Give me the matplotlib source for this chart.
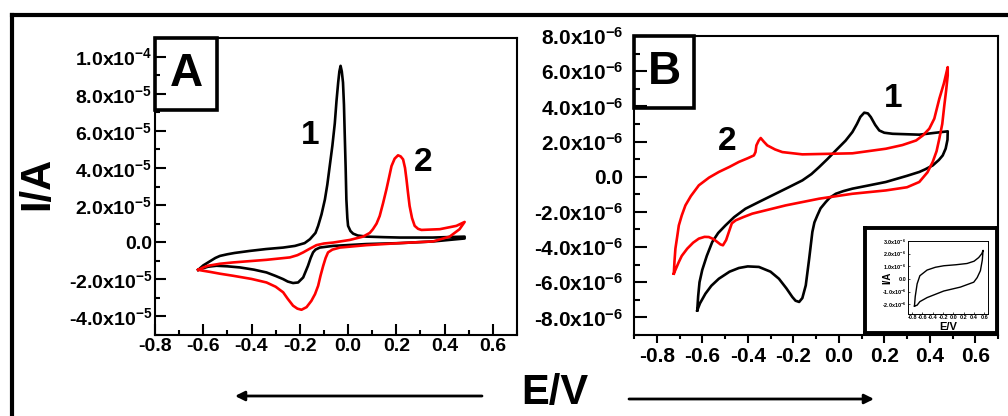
import matplotlib
matplotlib.use('Agg')
import matplotlib.pyplot as plt
from matplotlib.patches import Rectangle, FancyArrowPatch
from matplotlib.lines import Line2D
from matplotlib.ticker import MultipleLocator

plt.rcParams['font.family'] = ['Liberation Sans', 'DejaVu Sans']
plt.rcParams['font.weight'] = 'bold'
plt.rcParams['mathtext.fontset'] = 'custom'
plt.rcParams['mathtext.rm'] = 'Liberation Sans:bold'
plt.rcParams['mathtext.it'] = 'Liberation Sans:bold'
plt.rcParams['mathtext.bf'] = 'Liberation Sans:bold'
plt.rcParams['mathtext.default'] = 'rm'

# ---------------- data ----------------
# Panel A (current in units of 1e-5 A)
A_SCALE = 1e-5
a1_E = [-0.621, -0.6, -0.58, -0.55, -0.531, -0.5, -0.47, -0.407, -0.34, -0.269, -0.22, -0.18,
        -0.158, -0.135, -0.124, -0.11, -0.096, -0.086, -0.076, -0.065, -0.055, -0.048, -0.041,
        -0.036, -0.031, -0.026, -0.021, -0.017, -0.014, -0.010, -0.007, -0.003, 0.0, 0.01,
        0.021, 0.04, 0.076, 0.15, 0.214, 0.35, 0.483,
        0.483, 0.352, 0.214, 0.076, -0.062, -0.117, -0.135, -0.145, -0.155, -0.166, -0.186,
        -0.207, -0.228, -0.25, -0.269, -0.3, -0.338, -0.39, -0.448, -0.5, -0.545, -0.58,
        -0.6, -0.621]
a1_I = [-1.49, -1.25, -1.09, -0.85, -0.74, -0.65, -0.58, -0.47, -0.37, -0.29, -0.2, -0.05,
        0.16, 0.5, 0.88, 1.5, 2.3, 3.1, 4.1, 5.2, 6.4, 7.6, 8.6,
        9.2, 9.5, 9.2, 8.6, 7.4, 5.9, 4.0, 2.3, 1.3, 0.88, 0.6,
        0.46, 0.36, 0.3, 0.27, 0.25, 0.25, 0.3,
        0.2, 0.04, -0.05, -0.1, -0.2, -0.29, -0.4, -0.55, -0.85, -1.27, -1.9,
        -2.17, -2.2, -2.12, -1.99, -1.82, -1.63, -1.48, -1.36, -1.3, -1.27, -1.32,
        -1.4, -1.49]

a2_E = [-0.621, -0.6, -0.58, -0.53, -0.476, -0.338, -0.241, -0.21, -0.186, -0.16, -0.131,
        -0.1, -0.062, 0.007, 0.062, 0.09, 0.103, 0.118, 0.131, 0.145, 0.159, 0.17, 0.18, 0.193,
        0.207, 0.218, 0.228, 0.236, 0.242, 0.248, 0.255, 0.265, 0.276, 0.29, 0.304, 0.38,
        0.449, 0.483,
        0.462, 0.421, 0.352, 0.214, 0.076, -0.034, -0.065, -0.083, -0.093, -0.103, -0.114,
        -0.124, -0.137, -0.152, -0.172, -0.193, -0.21, -0.228, -0.25, -0.269, -0.3, -0.338,
        -0.4, -0.476, -0.53, -0.572, -0.6, -0.621]
a2_I = [-1.49, -1.36, -1.27, -1.16, -1.09, -0.95, -0.82, -0.7, -0.55, -0.36, -0.16,
        -0.07, -0.02, 0.12, 0.3, 0.5, 0.7, 1.0, 1.41, 2.1, 2.85, 3.5, 4.1, 4.5,
        4.68, 4.62, 4.46, 4.0, 3.39, 2.7, 1.95, 1.3, 0.88, 0.72, 0.66, 0.7,
        0.88, 1.09,
        0.7, 0.3, 0.04, -0.05, -0.16, -0.29, -0.4, -0.55, -0.85, -1.27, -1.8,
        -2.35, -2.8, -3.16, -3.5, -3.64, -3.58, -3.42, -3.05, -2.7, -2.4, -2.17,
        -1.98, -1.81, -1.7, -1.6, -1.54, -1.49]

# Panel B (current in units of 1e-6 A)
B_SCALE = 1e-6
b1_E = [-0.622, -0.618, -0.612, -0.6, -0.58, -0.556, -0.53, -0.498, -0.46, -0.41, -0.35,
        -0.292, -0.22, -0.16, -0.12, -0.086, -0.05, -0.013, 0.03, 0.06, 0.08, 0.095, 0.112,
        0.128, 0.141, 0.16, 0.178, 0.2, 0.237, 0.354, 0.479,
        0.479, 0.478, 0.47, 0.457, 0.44, 0.413, 0.38, 0.354, 0.3, 0.207, 0.13, 0.06, 0.02,
        -0.013, -0.04, -0.057, -0.08, -0.094, -0.107, -0.116, -0.13, -0.145, -0.16, -0.174,
        -0.19, -0.204, -0.23, -0.263, -0.3, -0.351, -0.4, -0.439, -0.48, -0.527, -0.56,
        -0.586, -0.61, -0.622]
b1_I = [-7.6, -6.8, -6.0, -5.3, -4.5, -3.71, -3.2, -2.77, -2.3, -1.82, -1.43,
        -1.06, -0.6, -0.21, 0.15, 0.55, 1.0, 1.49, 2.05, 2.54, 3.0, 3.4, 3.64,
        3.6, 3.39, 2.95, 2.63, 2.5, 2.44, 2.39, 2.58,
        2.58, 2.1, 1.6, 1.21, 0.95, 0.64, 0.42, 0.27, 0.05, -0.3, -0.5, -0.68, -0.82,
        -0.97, -1.2, -1.44, -1.8, -2.2, -2.6, -3.14, -4.66, -6.18, -6.9, -7.12,
        -7.05, -6.84, -6.35, -5.8, -5.4, -5.13, -5.1, -5.19, -5.4, -5.8, -6.2,
        -6.65, -7.2, -7.6]

b2_E = [-0.725, -0.722, -0.718, -0.71, -0.703, -0.69, -0.674, -0.65, -0.615, -0.57, -0.527,
        -0.48, -0.439, -0.4, -0.373, -0.366, -0.362, -0.352, -0.343, -0.33, -0.314, -0.28,
        -0.248, -0.16, 0.06, 0.207, 0.28, 0.34, 0.37, 0.398, 0.42, 0.442, 0.462, 0.479,
        0.479, 0.472, 0.464, 0.455, 0.442, 0.43, 0.413, 0.39, 0.354, 0.3, 0.207, 0.06, -0.086,
        -0.233, -0.38, -0.42, -0.453, -0.47, -0.483, -0.495, -0.509, -0.52, -0.534, -0.55,
        -0.571, -0.59, -0.615, -0.64, -0.666, -0.69, -0.703, -0.725]
b2_I = [-5.51, -4.8, -4.09, -3.4, -2.77, -2.2, -1.63, -1.1, -0.49, -0.05, 0.27,
        0.56, 0.84, 1.05, 1.21, 1.4, 1.78, 2.05, 2.2, 2.0, 1.78, 1.55,
        1.4, 1.27, 1.33, 1.59, 1.8, 2.06, 2.35, 2.73, 3.3, 4.43, 5.3, 6.23,
        5.76, 4.9, 4.05, 3.0, 2.16, 1.45, 0.84, 0.25, -0.3, -0.6, -0.78, -0.97, -1.25,
        -1.63, -2.1, -2.3, -2.48, -2.65, -3.14, -3.6, -3.9, -3.85, -3.71, -3.55,
        -3.43, -3.42, -3.52, -3.75, -4.09, -4.5, -4.85, -5.51]

# Inset (current in units of 1e-6 A)
in_E = [-0.755, -0.74, -0.703, -0.65, -0.51, -0.35, -0.187, 0.05, 0.265, 0.4, 0.49, 0.55,
        0.574, 0.56, 0.523, 0.46, 0.394, 0.135, -0.187, -0.51, -0.65, -0.703, -0.755]
in_I = [-2.16, -1.4, -0.39, 0.25, 0.7, 0.92, 1.04, 1.12, 1.22, 1.4, 1.69, 2.0,
        2.26, 1.5, 0.65, 0.1, -0.26, -0.65, -0.96, -1.48, -1.8, -2.08, -2.16]

# tick values / labels
x_ticks = [-0.8, -0.6, -0.4, -0.2, 0.0, 0.2, 0.4, 0.6]
x_labels = ['-0.8', '-0.6', '-0.4', '-0.2', '0.0', '0.2', '0.4', '0.6']
a_yticks = [-4e-5, -2e-5, 0.0, 2e-5, 4e-5, 6e-5, 8e-5, 1e-4]
a_ylabels = ['-4.0x10$^{-5}$', '-2.0x10$^{-5}$', '0.0', '2.0x10$^{-5}$', '4.0x10$^{-5}$',
             '6.0x10$^{-5}$', '8.0x10$^{-5}$', '1.0x10$^{-4}$']
b_yticks = [-8e-6, -6e-6, -4e-6, -2e-6, 0.0, 2e-6, 4e-6, 6e-6, 8e-6]
b_ylabels = ['-8.0x10$^{-6}$', '-6.0x10$^{-6}$', '-4.0x10$^{-6}$', '-2.0x10$^{-6}$', '0.0',
             '2.0x10$^{-6}$', '4.0x10$^{-6}$', '6.0x10$^{-6}$', '8.0x10$^{-6}$']
in_yticks = [-2e-6, -1e-6, 0.0, 1e-6, 2e-6, 3e-6]
in_ylabels = ['-2.0x10$^{-6}$', '-1.0x10$^{-6}$', '0.0', '1.0x10$^{-6}$', '2.0x10$^{-6}$',
              '3.0x10$^{-6}$']

RED = '#ff0000'
W, H = 1008, 416

fig = plt.figure(figsize=(W / 100, H / 100), dpi=100)


def fbox(x0, y0, x1, y1):
    return [x0 / W, 1 - y1 / H, (x1 - x0) / W, (y1 - y0) / H]


# ---------------- panel A ----------------
axA = fig.add_axes(fbox(155, 38, 517, 335))
axA.plot(a1_E, [v * A_SCALE for v in a1_I], color='black', lw=1.9, solid_joinstyle='round')
axA.plot(a2_E, [v * A_SCALE for v in a2_I], color=RED, lw=1.9, solid_joinstyle='round')
axA.set_xlim(-0.8, 0.7)
axA.set_ylim(-5e-5, 1.1e-4)
axA.set_xticks(x_ticks, x_labels)
axA.set_yticks(a_yticks, a_ylabels)
axA.xaxis.set_minor_locator(MultipleLocator(0.1))
axA.yaxis.set_minor_locator(MultipleLocator(1e-5))
axA.tick_params(which='both', direction='in', width=1.5)
axA.tick_params(which='major', length=8)
axA.tick_params(which='minor', length=3.5)
axA.tick_params(axis='y', which='major', labelsize=14, pad=2)
axA.tick_params(axis='x', which='major', labelsize=14, pad=2)
for s in axA.spines.values():
    s.set_linewidth(1.5)
axA.add_patch(Rectangle((0, 1 - 0.242), 0.171, 0.242, transform=axA.transAxes,
                        fill=False, lw=2.6, ec='black', clip_on=False, zorder=5))
axA.text(0.0856, 0.879, 'A', transform=axA.transAxes, fontsize=33, fontweight='bold',
         ha='center', va='center')
axA.text(-0.158, 5.75e-5, '1', fontsize=24, fontweight='bold', ha='center', va='center')
axA.text(0.313, 4.3e-5, '2', fontsize=24, fontweight='bold', ha='center', va='center')

# ---------------- panel B ----------------
axB = fig.add_axes(fbox(634, 36, 998, 335))
axB.plot(b1_E, [v * B_SCALE for v in b1_I], color='black', lw=1.9, solid_joinstyle='round')
axB.plot(b2_E, [v * B_SCALE for v in b2_I], color=RED, lw=1.9, solid_joinstyle='round')
axB.set_xlim(-0.9, 0.7)
axB.set_ylim(-9e-6, 8e-6)
axB.set_xticks(x_ticks, x_labels)
axB.set_yticks(b_yticks, b_ylabels)
axB.xaxis.set_minor_locator(MultipleLocator(0.1))
axB.yaxis.set_minor_locator(MultipleLocator(1e-6))
axB.tick_params(axis='y', which='both', direction='in', width=1.5)
axB.tick_params(axis='y', which='major', length=9, labelsize=15, pad=8)
axB.tick_params(axis='y', which='minor', length=4)
axB.tick_params(axis='x', which='both', direction='out', width=1.5)
axB.tick_params(axis='x', which='major', length=5.5, labelsize=15, pad=3)
axB.tick_params(axis='x', which='minor', length=3)
for s in axB.spines.values():
    s.set_linewidth(1.5)
axB.add_patch(Rectangle((0, 1 - 0.241), 0.165, 0.241, transform=axB.transAxes,
                        fill=False, lw=2.6, ec='black', clip_on=False, zorder=5))
axB.text(0.0824, 0.88, 'B', transform=axB.transAxes, fontsize=33, fontweight='bold',
         ha='center', va='center')
axB.text(0.24, 4.43e-6, '1', fontsize=24, fontweight='bold', ha='center', va='center')
axB.text(-0.492, 1.99e-6, '2', fontsize=24, fontweight='bold', ha='center', va='center')

# ---------------- inset ----------------
axF = fig.add_axes(fbox(865, 228, 997, 333), zorder=5)
axF.set_xticks([])
axF.set_yticks([])
for s in axF.spines.values():
    s.set_linewidth(2.8)

axI = fig.add_axes(fbox(908, 241, 988, 314), zorder=6)
axI.plot(in_E, [v * B_SCALE for v in in_I], color='black', lw=1.0)
axI.set_xlim(-0.88, 0.67)
axI.set_ylim(-2.78e-6, 2.94e-6)
axI.set_xticks(x_ticks, x_labels)
axI.set_yticks(in_yticks, in_ylabels)
axI.tick_params(which='both', direction='in', length=1.5, width=0.5, labelsize=4, pad=1)
for s in axI.spines.values():
    s.set_linewidth(0.7)
axI.set_xlabel('E/V', fontsize=8, fontweight='bold', labelpad=1)
axI.set_ylabel('I/A', fontsize=7, fontweight='bold', labelpad=-8)

# ---------------- figure decorations ----------------
fig.add_artist(Line2D([12 / W, 12 / W], [1 - 15 / H, -0.05], transform=fig.transFigure,
                      color='black', lw=3, solid_capstyle='projecting'))
fig.add_artist(Line2D([12 / W, 1.05], [1 - 15 / H, 1 - 15 / H], transform=fig.transFigure,
                      color='black', lw=3, solid_capstyle='projecting'))

fig.text(37 / W, 1 - 183 / H, 'I/A', rotation=90, fontsize=30, fontweight='bold',
         ha='center', va='center')
fig.text(555 / W, 1 - 393 / H, 'E/V', fontsize=30, fontweight='bold',
         ha='center', va='center')

fig.add_artist(FancyArrowPatch((482 / W, 1 - 396 / H), (235 / W, 1 - 396 / H),
                               transform=fig.transFigure, arrowstyle='-|>',
                               mutation_scale=14, lw=2, color='black',
                               shrinkA=0, shrinkB=0))
fig.add_artist(FancyArrowPatch((629 / W, 1 - 399 / H), (874 / W, 1 - 399 / H),
                               transform=fig.transFigure, arrowstyle='-|>',
                               mutation_scale=14, lw=2, color='black',
                               shrinkA=0, shrinkB=0))

fig.savefig('out.png', dpi=100)
